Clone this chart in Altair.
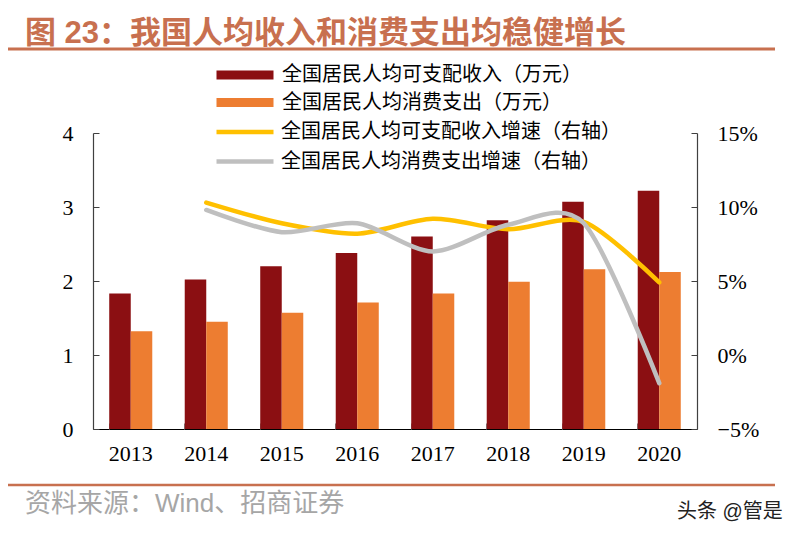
import altair as alt
import pandas as pd

years = ["2013", "2014", "2015", "2016", "2017", "2018", "2019", "2020"]
income = [1.83, 2.02, 2.20, 2.38, 2.60, 2.82, 3.07, 3.22]
spending = [1.32, 1.45, 1.57, 1.71, 1.83, 1.99, 2.16, 2.12]

growth_years = ["2014", "2015", "2016", "2017", "2018", "2019", "2020"]
income_growth = [10.3, 8.9, 8.2, 9.2, 8.5, 9.0, 4.9]
spending_growth = [9.8, 8.3, 8.9, 7.0, 8.8, 8.9, -1.9]

bar_names = ["全国居民人均可支配收入（万元）", "全国居民人均消费支出（万元）"]
line_names = ["全国居民人均可支配收入增速（右轴）", "全国居民人均消费支出增速（右轴）"]

title_text = "图 23：我国人均收入和消费支出均稳健增长"
source_text = "资料来源：Wind、招商证券"
mark_text = "头条 @管是"

bar_df = pd.DataFrame({
    "year": years * 2,
    "series": [bar_names[0]] * len(years) + [bar_names[1]] * len(years),
    "value": income + spending,
})
line_df = pd.DataFrame({
    "year": growth_years * 2,
    "series": [line_names[0]] * len(growth_years) + [line_names[1]] * len(growth_years),
    "rate": income_growth + spending_growth,
})
one_row = pd.DataFrame({"k": [0]})

SERIF = "Liberation Serif"
CJK = "Noto Sans CJK SC"
ACCENT = "#C8704F"

x_scale = alt.Scale(domain=years, paddingInner=0.43, paddingOuter=0.215)
left_scale = alt.Scale(domain=[0, 4], nice=False)
right_scale = alt.Scale(domain=[-5, 15], nice=False)

bars = alt.Chart(bar_df).mark_bar().encode(
    x=alt.X("year:N", scale=x_scale, axis=alt.Axis(
        title=None, labelAngle=0, ticks=False, grid=False, domainColor="black",
        domainWidth=1.2, labelFont=SERIF, labelFontSize=22, labelColor="black",
        labelPadding=14)),
    xOffset=alt.XOffset("series:N", sort=bar_names,
                        scale=alt.Scale(domain=bar_names, paddingInner=0, paddingOuter=0)),
    y=alt.Y("value:Q", scale=left_scale, axis=alt.Axis(
        orient="left", title=None, values=[0, 1, 2, 3, 4], grid=False, ticks=False,
        domainColor="#404040", domainWidth=1.2, labelFont=SERIF, labelFontSize=22,
        labelColor="black", labelPadding=20)),
    color=alt.Color("series:N", sort=bar_names,
                    scale=alt.Scale(domain=bar_names, range=["#8B0F12", "#ED7D31"]),
                    legend=alt.Legend(
                        title=None, orient="none", legendX=142, legendY=-68,
                        direction="vertical", padding=0,
                        symbolType="M-3,-0.47H3V0.47H-3Z", symbolSize=361,
                        symbolStrokeWidth=0, labelFont=CJK, labelFontSize=20,
                        labelColor="black", labelOffset=27, labelLimit=600,
                        rowPadding=7.5)),
)

lines = alt.Chart(line_df).mark_line(
    interpolate="cardinal", tension=0.15, strokeWidth=4.5, strokeCap="round"
).encode(
    x=alt.X("year:N", scale=x_scale, axis=None),
    y=alt.Y("rate:Q", scale=right_scale, axis=alt.Axis(
        orient="right", title=None, values=[-5, 0, 5, 10, 15], grid=False, ticks=False,
        domainColor="#404040", domainWidth=1.2, labelFont=SERIF, labelFontSize=22,
        labelColor="black", labelPadding=20,
        labelExpr="replace(datum.value + '%', '-', '−')")),
    color=alt.Color("series:N", sort=line_names,
                    scale=alt.Scale(domain=line_names, range=["#FFC000", "#BFBFBF"]),
                    legend=alt.Legend(
                        title=None, orient="none", legendX=140, legendY=-13,
                        direction="vertical", padding=0,
                        symbolType="M-3,0H3", symbolSize=361,
                        symbolStrokeWidth=4.5, labelFont=CJK, labelFontSize=20,
                        labelColor="black", labelOffset=24, labelLimit=600,
                        rowPadding=7.5)),
)

# inward-pointing ticks, drawn by axes pulled into the plot
ticks_left = alt.Chart(bar_df).mark_bar(opacity=0).encode(
    x=alt.X("year:N", scale=x_scale, axis=alt.Axis(
        orient="bottom", title=None, domain=False, labels=False, grid=False,
        tickSize=6, offset=-6, bandPosition=0, tickColor="#808080")),
    y=alt.Y("value:Q", scale=left_scale, axis=alt.Axis(
        orient="left", title=None, domain=False, labels=False, grid=False,
        values=[0, 1, 2, 3, 4], tickSize=6, offset=-6, tickColor="#404040")),
)
ticks_right = alt.Chart(line_df).mark_line(opacity=0).encode(
    x=alt.X("year:N", scale=x_scale, axis=None),
    y=alt.Y("rate:Q", scale=right_scale, axis=alt.Axis(
        orient="right", title=None, domain=False, labels=False, grid=False,
        values=[-5, 0, 5, 10, 15], tickSize=6, offset=-6, tickColor="#404040")),
)

title = alt.Chart(one_row).mark_text(
    align="left", baseline="alphabetic", font=f"Liberation Sans, {CJK}",
    fontSize=31, fontWeight="bold", color=ACCENT
).encode(x=alt.value(-68), y=alt.value(-90), text=alt.value(title_text))

top_rule = alt.Chart(one_row).mark_rule(color=ACCENT, strokeWidth=3).encode(
    x=alt.value(-85), x2=alt.value(682), y=alt.value(-84))
bottom_rule = alt.Chart(one_row).mark_rule(color=ACCENT, strokeWidth=2.5).encode(
    x=alt.value(-85), x2=alt.value(682), y=alt.value(352))

source = alt.Chart(one_row).mark_text(
    align="left", baseline="middle", font=f"Liberation Sans, {CJK}",
    fontSize=26, color="#A6A6A6"
).encode(x=alt.value(-68), y=alt.value(371), text=alt.value(source_text))

watermark = alt.Chart(one_row).mark_text(
    align="left", baseline="middle", font=f"Liberation Sans, {CJK}",
    fontSize=20, color="#222222"
).encode(x=alt.value(584), y=alt.value(379), text=alt.value(mark_text))

chart = alt.layer(
    bars, lines, ticks_left, ticks_right,
    title, top_rule, bottom_rule, source, watermark
).resolve_scale(
    y="independent", color="independent"
).resolve_axis(
    x="independent", y="independent"
).properties(
    width=604, height=296,
    autosize=alt.AutoSizeParams(type="none"),
    padding={"left": 85, "top": 125, "right": 93, "bottom": 101},
).configure_view(stroke=None)

chart.save("out.html", embed_options={"renderer": "svg", "actions": False})
